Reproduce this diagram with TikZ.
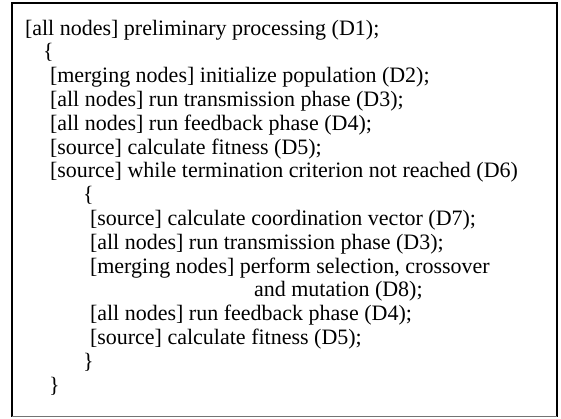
\documentclass[tikz,border=0pt]{standalone}
\usepackage{fontspec}
\setmainfont{Liberation Serif}
\begin{document}
\begin{tikzpicture}[x=1pt,y=-1pt,
  ln/.style={anchor=base west,inner sep=0pt,outer sep=0pt,font=\fontsize{22}{24}\selectfont}]
\useasboundingbox (0,0) rectangle (561,418);
\fill[white] (0,0) rectangle (561,418);
\draw[line width=2pt] (12,416.5) -- (12,3) -- (557,3) -- (557,416.5);
\draw[line width=1.2pt,black!55] (12,416.5) -- (557,416.5);
\def\ls{23.8}
\def\yo{35}
\node[ln] (l1) at (25,\yo) {[all nodes] preliminary processing (D1);};
\node[ln] (l2) at (43,{\yo+1*\ls}) {\{};
\node[ln] (l3) at (50,{\yo+2*\ls}) {[merging nodes] initialize population (D2);};
\node[ln] (l4) at (50,{\yo+3*\ls}) {[all nodes] run transmission phase (D3);};
\node[ln] (l5) at (50,{\yo+4*\ls}) {[all nodes] run feedback phase (D4);};
\node[ln] (l6) at (50,{\yo+5*\ls}) {[source] calculate fitness (D5);};
\node[ln] (l7) at (50,{\yo+6*\ls}) {[source] while termination criterion not reached (D6)};
\node[ln] (l8) at (83,{\yo+7*\ls}) {\{};
\node[ln] (l9) at (90,{\yo+8*\ls}) {[source] calculate coordination vector (D7);};
\node[ln] (l10) at (90,{\yo+9*\ls}) {[all nodes] run transmission phase (D3);};
\node[ln] (l11) at (90,{\yo+10*\ls}) {[merging nodes] perform selection, crossover};
\node[ln] (l12) at (254,{\yo+11*\ls}) {and mutation (D8);};
\node[ln] (l13) at (90,{\yo+12*\ls}) {[all nodes] run feedback phase (D4);};
\node[ln] (l14) at (90,{\yo+13*\ls}) {[source] calculate fitness (D5);};
\node[ln] (l15) at (83,{\yo+14*\ls}) {\}};
\node[ln] (l16) at (49,{\yo+15*\ls}) {\}};
\end{tikzpicture}
\end{document}
